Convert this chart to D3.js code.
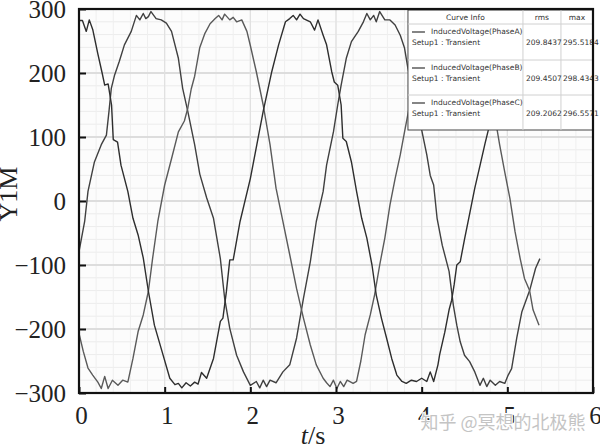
<!DOCTYPE html>
<html>
<head>
<meta charset="utf-8">
<script src="https://cdn.jsdelivr.net/npm/d3@7/dist/d3.min.js"></script>
<style>
  body { margin: 0; background: #fff; }
  svg { display: block; }
</style>
</head>
<body>
<div id="chart"></div>
<script>
// induced voltage of the three phases as [t (s), value]

var phaseA = [[0.00,-79],[0.066,-32],[0.105,15],[0.18,61],[0.26,88],[0.32,103],[0.35,140],[0.377,176],[0.416,197],
  [0.47,218],[0.53,244],[0.61,265],[0.67,290],[0.71,283],[0.75,293],[0.78,285],[0.81,288],[0.84,296],[0.90,285],
  [0.96,283],[1.02,278],[1.08,265],[1.16,223],[1.21,176],[1.27,140],[1.35,88],[1.41,42],[1.49,5],[1.57,-27],
  [1.65,-90],[1.70,-152],[1.76,-199],[1.84,-241],[1.92,-267],[2.00,-288],[2.07,-282],[2.11,-292],[2.15,-280],
  [2.19,-290],[2.23,-280],[2.30,-284],[2.38,-267],[2.46,-256],[2.54,-214],[2.62,-152],[2.70,-95],[2.77,-32],
  [2.85,15],[2.89,56],[2.97,108],[3.02,150],[3.06,181],[3.12,223],[3.18,249],[3.26,265],[3.32,280],[3.36,293],
  [3.40,283],[3.44,290],[3.47,280],[3.51,296],[3.57,283],[3.63,283],[3.69,275],[3.75,259],[3.80,239],[3.84,207],
  [3.92,160],[3.98,124],[4.06,72],[4.10,40],[4.14,25],[4.18,-27],[4.24,-69],[4.32,-110],[4.37,-163],[4.41,-194],
  [4.45,-220],[4.50,-241],[4.56,-251],[4.62,-267],[4.68,-288],[4.72,-277],[4.76,-290],[4.80,-280],[4.86,-288],
  [4.91,-282],[4.97,-285],[5.01,-272],[5.05,-262],[5.11,-214],[5.17,-173],[5.26,-140],[5.33,-105],[5.38,-90]];

var phaseB = [[0.00,-207],[0.05,-235],[0.105,-261],[0.16,-272],[0.22,-283],[0.26,-293],[0.30,-274],[0.34,-293],
  [0.39,-280],[0.455,-288],[0.51,-280],[0.57,-283],[0.63,-246],[0.69,-204],[0.75,-178],[0.81,-141],[0.86,-89],
  [0.92,-32],[1.00,25],[1.08,66],[1.16,108],[1.23,125],[1.27,145],[1.31,175],[1.35,195],[1.41,240],[1.47,262],
  [1.53,277],[1.59,285],[1.63,290],[1.67,283],[1.70,292],[1.76,283],[1.80,287],[1.84,280],[1.90,283],[1.96,265],
  [2.00,243],[2.07,202],[2.15,150],[2.23,88],[2.30,20],[2.38,-32],[2.46,-84],[2.54,-137],[2.62,-183],[2.70,-225],
  [2.77,-256],[2.85,-277],[2.89,-284],[2.93,-290],[2.97,-280],[3.01,-293],[3.05,-282],[3.09,-290],[3.13,-280],
  [3.20,-285],[3.24,-282],[3.29,-250],[3.34,-209],[3.40,-178],[3.45,-147],[3.51,-100],[3.57,-58],[3.63,-6],
  [3.69,35],[3.75,72],[3.80,108],[3.86,150],[3.95,200],[4.05,250],[4.15,280],[4.25,288],[4.35,283],[4.45,290],
  [4.55,282],[4.62,270],[4.70,240],[4.80,180],[4.88,112],[4.91,88],[4.97,45],[5.03,4],[5.09,-48],[5.15,-90],
  [5.20,-121],[5.26,-140],[5.30,-170],[5.37,-194]];

var phaseC = [[0.00,282],[0.04,282],[0.085,265],[0.12,283],[0.16,268],[0.22,230],[0.27,200],[0.30,181],[0.34,183],
  [0.38,150],[0.40,96],[0.45,92],[0.49,56],[0.57,15],[0.63,-27],[0.69,-53],[0.75,-89],[0.81,-141],[0.88,-194],
  [0.98,-240],[1.06,-277],[1.12,-287],[1.16,-285],[1.20,-292],[1.25,-284],[1.30,-289],[1.35,-283],[1.39,-286],
  [1.43,-268],[1.49,-277],[1.57,-246],[1.65,-188],[1.68,-183],[1.72,-142],[1.76,-92],[1.80,-92],[1.88,-32],
  [2.00,35],[2.15,140],[2.25,202],[2.33,244],[2.41,280],[2.46,285],[2.50,290],[2.54,283],[2.58,292],[2.62,285],
  [2.70,280],[2.75,267],[2.79,283],[2.85,259],[2.89,244],[2.95,202],[2.98,186],[3.02,181],[3.06,150],[3.08,98],
  [3.12,93],[3.18,61],[3.24,15],[3.30,-27],[3.36,-58],[3.42,-100],[3.47,-147],[3.53,-183],[3.59,-214],[3.65,-246],
  [3.71,-272],[3.77,-282],[3.82,-285],[3.88,-280],[3.94,-282],[4.00,-277],[4.06,-282],[4.10,-267],[4.14,-282],
  [4.19,-256],[4.21,-240],[4.27,-205],[4.32,-170],[4.35,-155],[4.38,-130],[4.41,-100],[4.45,-95],[4.50,-60],
  [4.56,-20],[4.62,20],[4.68,55],[4.74,90],[4.78,112],[4.85,150],[4.95,200],[5.05,250],[5.12,275],[5.20,285],
  [5.28,290],[5.37,283]];

var xTicks = [0, 1, 2, 3, 4, 5, 6];
var yTicks = [-300, -200, -100, 0, 100, 200, 300];

// legend table
var legendHeader = ["Curve Info", "rms", "max"];
var legendNames = ["InducedVoltage(PhaseA)", "InducedVoltage(PhaseB)", "InducedVoltage(PhaseC)"];
var legendSetup = ["Setup1 : Transient", "Setup1 : Transient", "Setup1 : Transient"];
var legendRms = ["209.8437", "209.4507", "209.2062"];
var legendMax = ["295.5184", "298.4343", "296.5571"];

var width = 600,
    height = 446;
var margin = {top: 9, right: 7, bottom: 53, left: 79};
var plotW = width - margin.left - margin.right,
    plotH = height - margin.top - margin.bottom;

var x = d3.scaleLinear().domain([0, 6]).range([0, plotW]);
var y = d3.scaleLinear().domain([-300, 300]).range([plotH, 0]);

var svg = d3.select("#chart").append("svg")
    .attr("width", width)
    .attr("height", height);

var g = svg.append("g")
    .attr("transform", "translate(" + margin.left + "," + margin.top + ")");

g.append("rect")
    .attr("width", plotW)
    .attr("height", plotH)
    .attr("fill", "#fcfcfc");

// minor grid
g.append("g").selectAll("line")
    .data(d3.range(-300, 301, 20))
    .enter().append("line")
    .attr("x1", 0).attr("x2", plotW)
    .attr("y1", function(d) { return y(d); })
    .attr("y2", function(d) { return y(d); })
    .style("stroke", "#ececec")
    .style("stroke-width", "1px");

g.append("g").selectAll("line")
    .data(d3.range(0, 6.01, 0.2))
    .enter().append("line")
    .attr("y1", 0).attr("y2", plotH)
    .attr("x1", function(d) { return x(d); })
    .attr("x2", function(d) { return x(d); })
    .style("stroke", "#efefef")
    .style("stroke-width", "1px");

// major grid
g.append("g").selectAll("line")
    .data(yTicks)
    .enter().append("line")
    .attr("x1", 0).attr("x2", plotW)
    .attr("y1", function(d) { return y(d); })
    .attr("y2", function(d) { return y(d); })
    .style("stroke", "#d6d6d6")
    .style("stroke-width", "1.4px");

g.append("g").selectAll("line")
    .data(xTicks)
    .enter().append("line")
    .attr("y1", 0).attr("y2", plotH)
    .attr("x1", function(d) { return x(d); })
    .attr("x2", function(d) { return x(d); })
    .style("stroke", "#e0e0e0")
    .style("stroke-width", "1.2px");

g.append("clipPath").attr("id", "clip")
  .append("rect").attr("width", plotW).attr("height", plotH);

var line = d3.line()
    .x(function(d) { return x(d[0]); })
    .y(function(d) { return y(d[1]); });

var curves = [
  {data: phaseA, color: "#404040"},
  {data: phaseB, color: "#5a5a5a"},
  {data: phaseC, color: "#2e2e2e"}
];

g.append("g").attr("clip-path", "url(#clip)")
  .selectAll("path")
  .data(curves)
  .enter().append("path")
    .attr("d", function(d) { return line(d.data); })
    .attr("fill", "none")
    .style("stroke", function(d) { return d.color; })
    .style("stroke-width", "1.4px")
    .style("stroke-linejoin", "round");

// legend table, on top of the curves
var lg = g.append("g").attr("transform", "translate(" + (x(3.84)) + ",1)");
var lgW = plotW - x(3.84), lgH = 120;
var col1 = 115, col2 = 153;
var rowTop = [14, 50, 85];

lg.append("rect")
    .attr("width", lgW).attr("height", lgH)
    .attr("fill", "#fff")
    .style("stroke", "#444")
    .style("stroke-width", "1px");

lg.selectAll(".colline")
    .data([col1, col2])
    .enter().append("line")
    .attr("class", "colline")
    .attr("x1", function(d) { return d; }).attr("x2", function(d) { return d; })
    .attr("y1", 0).attr("y2", lgH)
    .style("stroke", "#d0d0d0");

lg.selectAll(".rowline")
    .data(rowTop)
    .enter().append("line")
    .attr("class", "rowline")
    .attr("x1", 0).attr("x2", lgW)
    .attr("y1", function(d) { return d; }).attr("y2", function(d) { return d; })
    .style("stroke", "#d0d0d0");

lg.selectAll(".head")
    .data(legendHeader)
    .enter().append("text")
    .attr("class", "head")
    .attr("x", function(d, i) { return [col1 / 2, (col1 + col2) / 2, (col2 + lgW) / 2][i]; })
    .attr("y", 10)
    .attr("text-anchor", "middle")
    .style("font-family", "'DejaVu Sans', sans-serif")
    .style("font-size", "7.5px")
    .style("fill", "#333")
    .text(function(d) { return d; });

var rows = lg.selectAll(".row")
    .data(legendNames)
    .enter().append("g")
    .attr("class", "row")
    .attr("transform", function(d, i) { return "translate(0," + rowTop[i] + ")"; });

rows.append("line")
    .attr("x1", 4).attr("x2", 17)
    .attr("y1", 8).attr("y2", 8)
    .style("stroke", "#333")
    .style("stroke-width", "1.2px");

rows.append("text")
    .attr("x", 23).attr("y", 10)
    .style("font-family", "'DejaVu Sans', sans-serif")
    .style("font-size", "7.5px")
    .style("fill", "#333")
    .text(function(d) { return d; });

rows.append("text")
    .attr("x", 4).attr("y", 21)
    .style("font-family", "'DejaVu Sans', sans-serif")
    .style("font-size", "7.5px")
    .style("fill", "#333")
    .text(function(d, i) { return legendSetup[i]; });

rows.append("text")
    .attr("x", col1 + 3).attr("y", 21)
    .style("font-family", "'DejaVu Sans', sans-serif")
    .style("font-size", "7.5px")
    .style("fill", "#333")
    .text(function(d, i) { return legendRms[i]; });

rows.append("text")
    .attr("x", col2 + 2).attr("y", 21)
    .style("font-family", "'DejaVu Sans', sans-serif")
    .style("font-size", "7.5px")
    .style("fill", "#333")
    .text(function(d, i) { return legendMax[i]; });

// axes: inward ticks, serif labels
var yAxis = d3.axisLeft(y).tickValues(yTicks).tickSize(-7).tickPadding(13)
    .tickFormat(function(d) { return d < 0 ? "\u2212" + Math.abs(d) : d; });
var xAxis = d3.axisBottom(x).tickValues(xTicks).tickSize(-6).tickPadding(13)
    .tickFormat(d3.format("d"));

var ya = g.append("g").call(yAxis);
var xa = g.append("g").attr("transform", "translate(0," + plotH + ")").call(xAxis);

[ya, xa].forEach(function(a) {
  a.select(".domain").remove();
  a.selectAll(".tick line").style("stroke", "#111").style("stroke-width", "2px");
  a.selectAll(".tick text")
    .style("font-family", "'Liberation Serif', 'Times New Roman', serif")
    .style("font-size", "25px")
    .style("fill", "#222");
});
ya.selectAll(".tick text").attr("dy", "0.35em");
xa.selectAll(".tick text").attr("dy", "0.71em").attr("x", 2);

g.append("rect")
    .attr("width", plotW)
    .attr("height", plotH)
    .attr("fill", "none")
    .style("stroke", "#111")
    .style("stroke-width", "2.2px");

// axis titles
svg.append("text")
    .attr("transform", "translate(17,194) rotate(-90)")
    .attr("text-anchor", "middle")
    .style("font-family", "'Liberation Serif', 'Times New Roman', serif")
    .style("font-size", "26px")
    .style("fill", "#222")
    .text("Y1M");

var xt = svg.append("text")
    .attr("x", 313).attr("y", 444)
    .attr("text-anchor", "middle")
    .style("font-family", "'Liberation Serif', 'Times New Roman', serif")
    .style("font-size", "26px")
    .style("fill", "#222");
xt.append("tspan").style("font-style", "italic").text("t");
xt.append("tspan").text("/s");

// watermark
svg.append("text")
    .attr("x", 503).attr("y", 429)
    .attr("text-anchor", "middle")
    .style("font-family", "'Noto Sans CJK SC', sans-serif")
    .style("font-size", "18px")
    .style("fill", "#c4c4c4")
    .style("stroke", "#fff")
    .style("stroke-width", "2px")
    .style("paint-order", "stroke")
    .text("知乎 @冥想的北极熊");
</script>
</body>
</html>
